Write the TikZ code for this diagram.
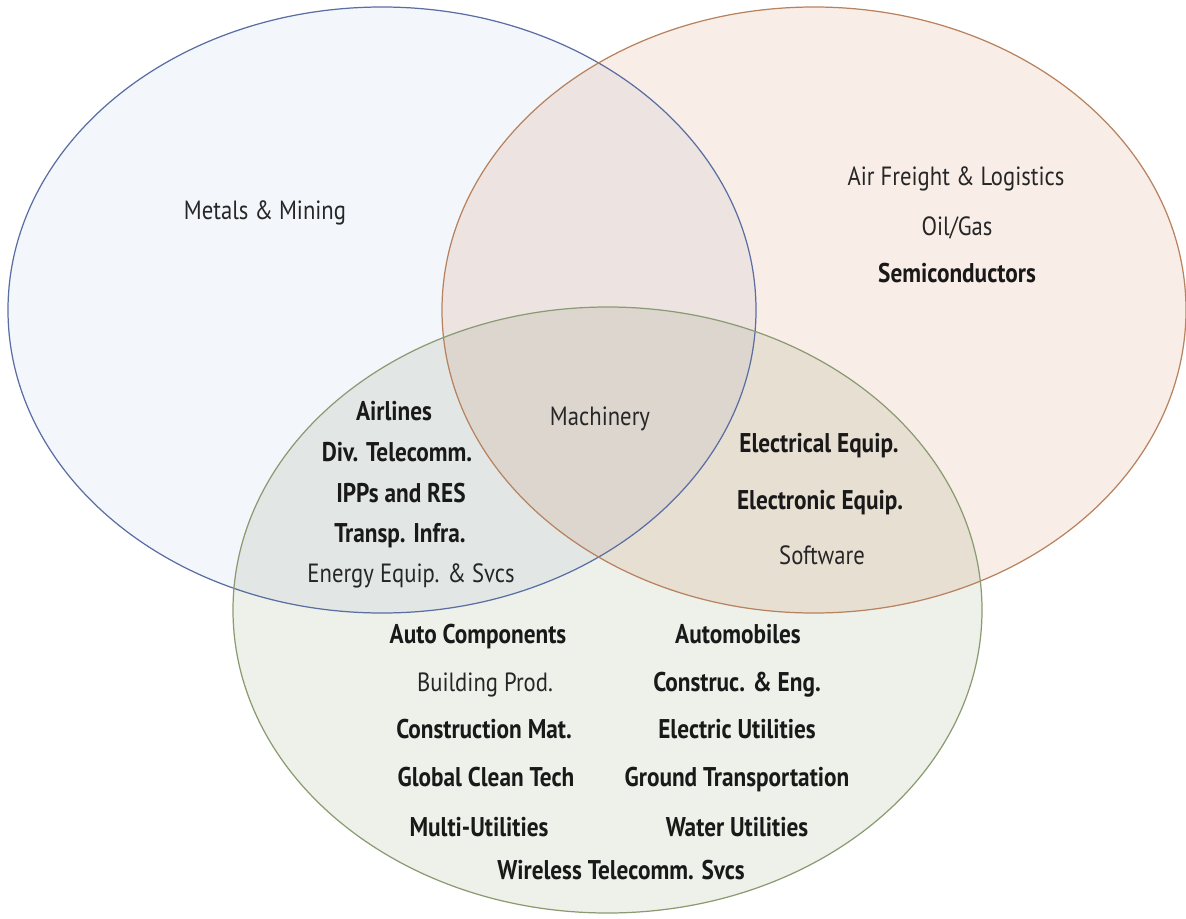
\documentclass[tikz,border=0pt]{standalone}
\usepackage{fontspec}
\setmainfont[FakeStretch=0.86]{PT Sans}
\usetikzlibrary{positioning}

\definecolor{metalfill}{HTML}{F3F6FA}
\definecolor{metalline}{HTML}{5A6EA3}
\definecolor{tradefill}{HTML}{F9EDE7}
\definecolor{tradeline}{HTML}{B8825E}
\definecolor{greenfill}{HTML}{EEF0EA}
\definecolor{greenline}{HTML}{8A9B72}

\begin{document}
\begin{tikzpicture}[x=0.02cm,y=-0.02cm,
  sector/.style={inner sep=0pt, text height=10.5pt, text depth=0pt, text=black!85, font=\fontsize{15}{18}\selectfont},
  core/.style={inner sep=0pt, text height=10.5pt, text depth=0pt, text=black!90, font=\fontsize{15.4}{18}\selectfont\bfseries},
  ring/.style={line width=0.7pt}]
\useasboundingbox (0,0) rectangle (1186,919);

% the three sets
\begin{scope}[blend mode=multiply]
\fill[metalfill] (382,310) ellipse [x radius=374, y radius=303];
\fill[tradefill] (814,310) ellipse [x radius=372, y radius=303];
\fill[greenfill] (607.5,610) ellipse [x radius=374.5, y radius=303];
\end{scope}
\draw[ring, metalline] (382,310) ellipse [x radius=374, y radius=303];
\draw[ring, tradeline] (814,310) ellipse [x radius=372, y radius=303];
\draw[ring, greenline] (607.5,610) ellipse [x radius=374.5, y radius=303];

% upper sets
\node[sector] (metals) at (265,210) {Metals \& Mining};
\node[sector] (freight) at (956,176) {Air Freight \& Logistics};
\node[sector] (oilgas) at (957,226) {Oil/Gas};
\node[core] (semis) at (957,273) {Semiconductors};

% overlaps
\node[core] (airlines) at (394,411) {Airlines};
\node[core] (divtel) at (397,452) {Div. Telecomm.};
\node[core] (ipps) at (401,493) {IPPs and RES};
\node[core] (transp) at (400,533) {Transp. Infra.};
\node[sector] (energy) at (411,573) {Energy Equip. \& Svcs};
\node[sector] (machinery) at (600,416) {Machinery};
\node[core] (elecequip) at (819,443) {Electrical Equip.};
\node[core] (electronic) at (820,500) {Electronic Equip.};
\node[sector] (software) at (822,555) {Software};

% lower set
\node[core] (autocomp) at (478,634) {Auto Components};
\node[sector] (building) at (485,682) {Building Prod.};
\node[core] (constmat) at (484,729) {Construction Mat.};
\node[core] (cleantech) at (486,777) {Global Clean Tech};
\node[core] (multiutil) at (479,827) {Multi-Utilities};
\node[core] (automob) at (738,634) {Automobiles};
\node[core] (construc) at (737,682) {Construc. \& Eng.};
\node[core] (elecutil) at (737,729) {Electric Utilities};
\node[core] (ground) at (737,777) {Ground Transportation};
\node[core] (water) at (737,827) {Water Utilities};
\node[core] (wireless) at (621,870) {Wireless Telecomm. Svcs};
\end{tikzpicture}
\end{document}
